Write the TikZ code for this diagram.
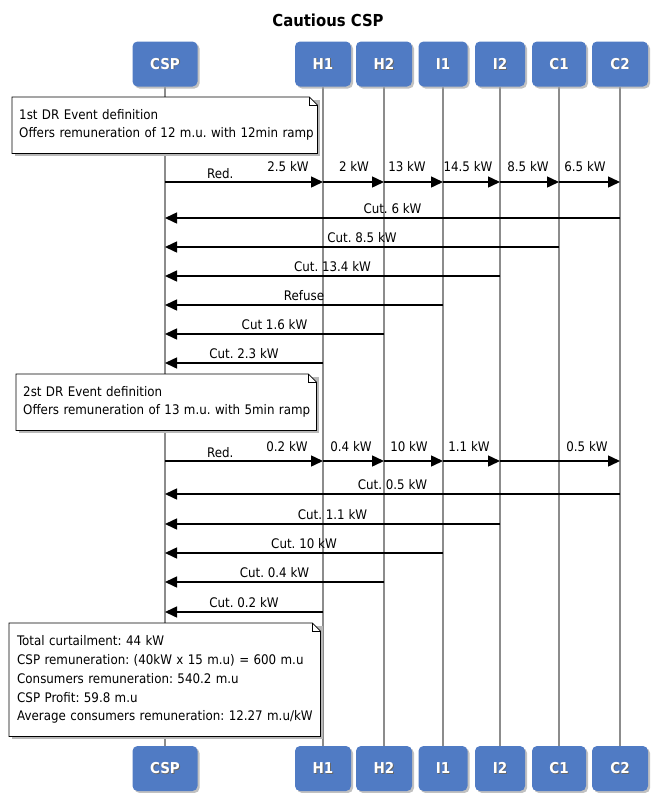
\documentclass[tikz,border=0pt]{standalone}
\usepackage{fontspec}
\setmainfont{DejaVu Sans Condensed}[BoldFont={DejaVu Sans Condensed Bold}]
\usetikzlibrary{arrows.meta,calc,shadows}
\pgfdeclarelayer{lifelayer}
\pgfdeclarelayer{notelayer}
\pgfsetlayers{lifelayer,notelayer,main}
\definecolor{partblue}{RGB}{80,123,196}
\newcommand{\ptxt}[1]{\rlap{\kern0.9pt\raisebox{-0.9pt}{\textcolor{black!60}{#1}}}\textcolor{white}{#1}}
\frenchspacing
\begin{document}
\begin{tikzpicture}[x=1pt,y=-1pt,
  part/.style={fill=partblue, rounded corners=5pt, minimum height=45pt, inner sep=0pt,
    font=\fontsize{15}{18}\selectfont\bfseries,
    drop shadow={shadow xshift=2pt, shadow yshift=-2pt, fill=black!35, opacity=0.7}},
  life/.style={draw=black!45, line width=1.2pt},
  msg/.style={line width=1.5pt, -{Triangle[length=12pt,width=11pt]}},
  lbl/.style={font=\fontsize{13.2}{15}\selectfont, anchor=base, inner sep=0pt},
  notetxt/.style={anchor=north west, inner xsep=7pt, inner ysep=0pt, align=left,
    font=\fontsize{13.2}{18.3}\selectfont},
  noteshape/.style={line width=0.8pt, fill=white},
  noteshadow/.style={fill=black!28}
]
\useasboundingbox (0,0) rectangle (653,793);

% title
\node[font=\fontsize{16.5}{20}\selectfont\bfseries] (title) at (328,20) {Cautious CSP};

% participants
\foreach \p/\x/\w in {CSP/165/65, H1/323/56, H2/384/56, I1/443/49, I2/500/50, C1/559/54, C2/620/56} {
  \node[part, minimum width=\w pt] (t-\p) at (\x,64) {\ptxt{\p}};
  \node[part, minimum width=\w pt] (b-\p) at (\x,768.5) {\ptxt{\p}};
}

% lifelines
\begin{pgfonlayer}{lifelayer}
\foreach \p in {CSP,H1,H2,I1,I2,C1,C2} {
  \draw[life] (t-\p.south) -- (b-\p.north);
}
\end{pgfonlayer}

% note 1
\node[notetxt, minimum width=305pt, minimum height=56pt, text width=291pt] (n1) at (12,97)
  {\mbox{1st DR Event definition}\\\mbox{Offers remuneration of 12 m.u. with 12min ramp}};

% first request
\draw[msg] (t-CSP |- 0,182) -- node[lbl, pos=0.35, yshift=4pt] (red1) {Red.} (t-H1 |- 0,182);
\draw[msg] (t-H1 |- 0,182) -- (t-H2 |- 0,182);
\draw[msg] (t-H2 |- 0,182) -- (t-I1 |- 0,182);
\draw[msg] (t-I1 |- 0,182) -- (t-I2 |- 0,182);
\draw[msg] (t-I2 |- 0,182) -- (t-C1 |- 0,182);
\draw[msg] (t-C1 |- 0,182) -- (t-C2 |- 0,182);
\node[lbl] (k11) at (288,171) {2.5 kW};
\node[lbl] (k12) at (354,171) {2 kW};
\node[lbl] (k13) at (407,171) {13 kW};
\node[lbl] (k14) at (468,171) {14.5 kW};
\node[lbl] (k15) at (528,171) {8.5 kW};
\node[lbl] (k16) at (585,171) {6.5 kW};

% first answers
\draw[msg] (t-C2 |- 0,218) -- node[lbl, midway, yshift=5pt] (c11) {Cut. 6 kW} (t-CSP |- 0,218);
\draw[msg] (t-C1 |- 0,247) -- node[lbl, midway, yshift=5pt] (c12) {Cut. 8.5 kW} (t-CSP |- 0,247);
\draw[msg] (t-I2 |- 0,276) -- node[lbl, midway, yshift=5pt] (c13) {Cut. 13.4 kW} (t-CSP |- 0,276);
\draw[msg] (t-I1 |- 0,305) -- node[lbl, midway, yshift=5pt] (c14) {Refuse} (t-CSP |- 0,305);
\draw[msg] (t-H2 |- 0,334) -- node[lbl, midway, yshift=5pt] (c15) {Cut 1.6 kW} (t-CSP |- 0,334);
\draw[msg] (t-H1 |- 0,363) -- node[lbl, midway, yshift=5pt] (c16) {Cut. 2.3 kW} (t-CSP |- 0,363);

% note 2
\node[notetxt, minimum width=300pt, minimum height=56pt, text width=286pt] (n2) at (16,374)
  {\mbox{2st DR Event definition}\\\mbox{Offers remuneration of 13 m.u. with 5min ramp}};

% second request
\draw[msg] (t-CSP |- 0,461) -- node[lbl, pos=0.35, yshift=4pt] (red2) {Red.} (t-H1 |- 0,461);
\draw[msg] (t-H1 |- 0,461) -- (t-H2 |- 0,461);
\draw[msg] (t-H2 |- 0,461) -- (t-I1 |- 0,461);
\draw[msg] (t-I1 |- 0,461) -- (t-I2 |- 0,461);
\draw[msg] (t-I2 |- 0,461) -- (t-C2 |- 0,461);
\node[lbl] (k21) at (287,451) {0.2 kW};
\node[lbl] (k22) at (351,451) {0.4 kW};
\node[lbl] (k23) at (409,451) {10 kW};
\node[lbl] (k24) at (469,451) {1.1 kW};
\node[lbl] (k25) at (587,451) {0.5 kW};

% second answers
\draw[msg] (t-C2 |- 0,494) -- node[lbl, midway, yshift=5pt] (c21) {Cut. 0.5 kW} (t-CSP |- 0,494);
\draw[msg] (t-I2 |- 0,524) -- node[lbl, midway, yshift=5pt] (c22) {Cut. 1.1 kW} (t-CSP |- 0,524);
\draw[msg] (t-I1 |- 0,553) -- node[lbl, midway, yshift=5pt] (c23) {Cut. 10 kW} (t-CSP |- 0,553);
\draw[msg] (t-H2 |- 0,582) -- node[lbl, midway, yshift=5pt] (c24) {Cut. 0.4 kW} (t-CSP |- 0,582);
\draw[msg] (t-H1 |- 0,612) -- node[lbl, midway, yshift=5pt] (c25) {Cut. 0.2 kW} (t-CSP |- 0,612);

% note 3
\node[notetxt, inner xsep=8pt, minimum width=311pt, minimum height=113pt, text width=295pt,
      font=\fontsize{13.2}{18.7}\selectfont] (n3) at (9,623)
  {\mbox{Total curtailment: 44 kW}\\
   \mbox{CSP remuneration: (40kW x 15 m.u) = 600 m.u}\\
   \mbox{Consumers remuneration: 540.2 m.u}\\
   \mbox{CSP Profit: 59.8 m.u}\\
   \mbox{Average consumers remuneration: 12.27 m.u/kW}};

% note frames
\begin{pgfonlayer}{notelayer}
\foreach \n in {n1,n2,n3} {
  \fill[noteshadow] ([shift={(3pt,-3pt)}]\n.north west) rectangle ([shift={(3pt,-3pt)}]\n.south east);
  \draw[noteshape] (\n.north west) -- ([xshift=-8pt]\n.north east) -- ([yshift=-8pt]\n.north east)
     -- (\n.south east) -- (\n.south west) -- cycle;
  \draw[line width=0.6pt] ([xshift=-8pt]\n.north east) -- ([xshift=-8pt,yshift=-8pt]\n.north east)
     -- ([yshift=-8pt]\n.north east);
}
\end{pgfonlayer}
\end{tikzpicture}
\end{document}
